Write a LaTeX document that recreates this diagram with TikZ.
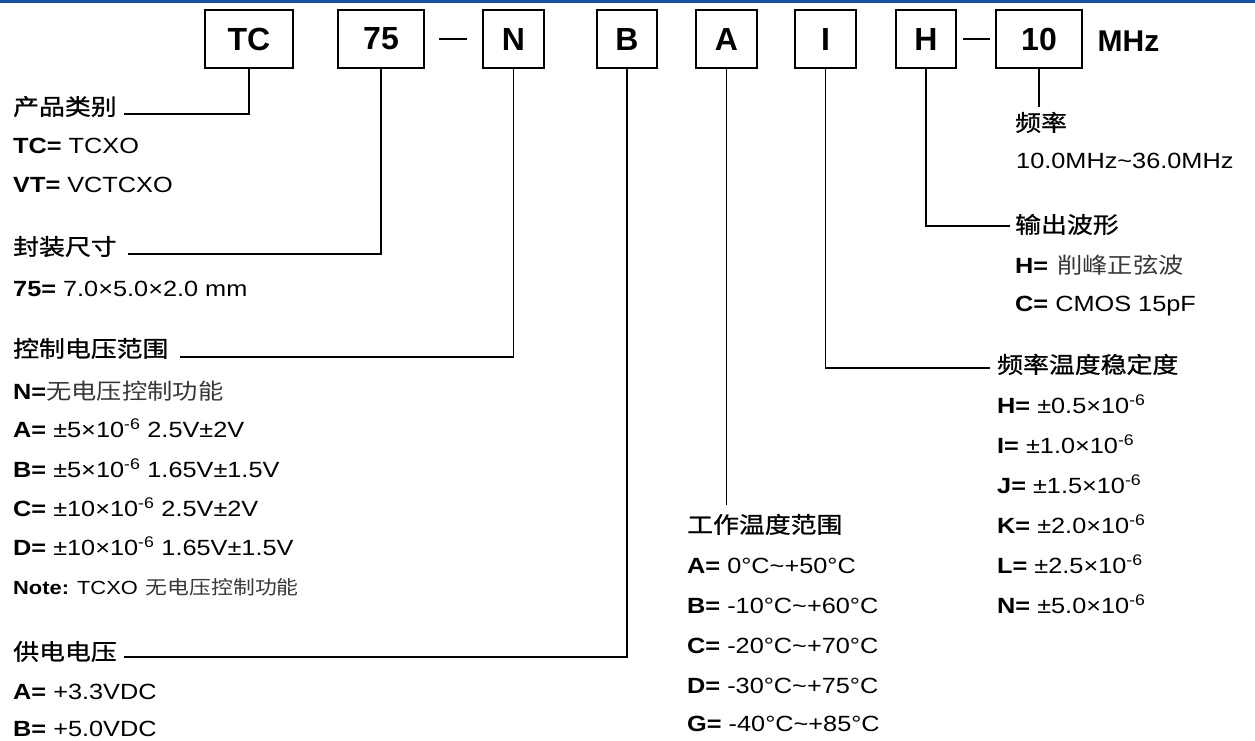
\documentclass[tikz,border=0pt]{standalone}
\usepackage{fontspec}
\setmainfont[FakeStretch=1.15]{Liberation Sans}
\newfontfamily\boxfont{Liberation Sans}
\newfontfamily\cjk[FakeStretch=1.15]{Noto Sans CJK SC}
\newfontfamily\cjkhead[FakeStretch=1.15,FakeBold=1.0]{Noto Sans CJK SC}
\definecolor{topblue}{RGB}{28,80,160}
\definecolor{softgray}{RGB}{55,55,55}
\tikzset{
  codebox/.style={draw, line width=2pt, minimum width=#1, minimum height=58pt, inner sep=0pt,
    font=\boxfont\fontsize{32}{32}\selectfont\bfseries},
  unitlbl/.style={inner sep=0pt, font=\boxfont\fontsize{30}{30}\selectfont\bfseries},
  txt/.style={anchor=base west, inner sep=0pt, font=\fontsize{22}{26}\selectfont},
  notetxt/.style={anchor=base west, inner sep=0pt, font=\fontsize{19}{22}\selectfont},
  head/.style={anchor=base west, inner sep=0pt, font=\cjkhead\fontsize{22.5}{26}\selectfont},
  conn/.style={line width=1.8pt},
  dashline/.style={line width=1.4pt}
}
\newcommand{\zh}[1]{{\cjk\color{softgray}#1}}
\newcommand{\esix}{10\textsuperscript{-6}}
\begin{document}
\begin{tikzpicture}[x=1pt,y=-1pt]
\useasboundingbox (0,0) rectangle (1255,740);
\fill[topblue] (0,0) rectangle (1255,3);

% code boxes
\node[codebox=88pt] (bTC) at (249,39) {TC};
\node[codebox=86pt] (b75) at (381,39) {75};
\node[codebox=61pt] (bN)  at (513.5,39) {N};
\node[codebox=60pt] (bB)  at (627,39) {B};
\node[codebox=61pt] (bA)  at (726.5,39) {A};
\node[codebox=61pt] (bI)  at (825.5,39) {I};
\node[codebox=60pt] (bH)  at (926,39) {H};
\node[codebox=86pt] (b10) at (1039,39) {10};
\node[unitlbl] (mhz) at (1128.5,41) {MHz};

\draw[dashline, shorten <=14pt, shorten >=15pt] (b75.east) -- (bN.west);
\draw[dashline, shorten <=6pt, shorten >=5pt] (bH.east) -- (b10.west);

% left column
\node[head] (hTC) at (13,115) {产品类别};
\node[txt] (tTC1) at (13,153) {\textbf{TC=} TCXO};
\node[txt] (tTC2) at (13,192) {\textbf{VT=} VCTCXO};

\node[head] (h75) at (13,255) {封装尺寸};
\node[txt] (t751) at (13,296) {\textbf{75=} 7.0×5.0×2.0 mm};

\node[head] (hN) at (13,357) {控制电压范围};
\node[txt] (tN1) at (13,399) {\textbf{N=}\zh{无电压控制功能}};
\node[txt] (tN2) at (13,437) {\textbf{A=} ±5×\esix{} 2.5V±2V};
\node[txt] (tN3) at (13,477) {\textbf{B=} ±5×\esix{} 1.65V±1.5V};
\node[txt] (tN4) at (13,516) {\textbf{C=} ±10×\esix{} 2.5V±2V};
\node[txt] (tN5) at (13,555) {\textbf{D=} ±10×\esix{} 1.65V±1.5V};
\node[notetxt] (tN6) at (13,594) {\textbf{Note:} TCXO\hspace{8pt}\zh{无电压控制功能}};

\node[head] (hB) at (13,660) {供电电压};
\node[txt] (tB1) at (13,699) {\textbf{A=} +3.3VDC};
\node[txt] (tB2) at (13,736) {\textbf{B=} +5.0VDC};

% middle column
\node[head] (hA) at (687,533) {工作温度范围};
\node[txt] (tA1) at (687,573) {\textbf{A=} 0°C\textasciitilde+50°C};
\node[txt] (tA2) at (687,613) {\textbf{B=} -10°C\textasciitilde+60°C};
\node[txt] (tA3) at (687,653) {\textbf{C=} -20°C\textasciitilde+70°C};
\node[txt] (tA4) at (687,693) {\textbf{D=} -30°C\textasciitilde+75°C};
\node[txt] (tA5) at (687,731) {\textbf{G=} -40°C\textasciitilde+85°C};

% right column
\node[head] (h10) at (1015,131) {频率};
\node[txt] (t101) at (1016,168) {10.0MHz\textasciitilde36.0MHz};

\node[head] (hH) at (1015,233) {输出波形};
\node[txt] (tH1) at (1015,273) {\textbf{H=}\hspace{9pt}\zh{削峰正弦波}};
\node[txt] (tH2) at (1015,311) {\textbf{C=} CMOS 15pF};

\node[head] (hI) at (997,373) {频率温度稳定度};
\node[txt] (tI1) at (997,413) {\textbf{H=} ±0.5×\esix};
\node[txt] (tI2) at (997,453) {\textbf{I=} ±1.0×\esix};
\node[txt] (tI3) at (997,493) {\textbf{J=} ±1.5×\esix};
\node[txt] (tI4) at (997,533) {\textbf{K=} ±2.0×\esix};
\node[txt] (tI5) at (997,573) {\textbf{L=} ±2.5×\esix};
\node[txt] (tI6) at (997,613) {\textbf{N=} ±5.0×\esix};

% connector ends
\coordinate (cTC) at (124,114);
\coordinate (c75) at (128,254);
\coordinate (cN)  at (180,357);
\coordinate (cB)  at (124,657);
\coordinate (cA)  at (726.5,505);
\coordinate (cI)  at (990,368);
\coordinate (cH)  at (1010,226);
\coordinate (c10) at (1039,107);

\draw[conn] (bTC.south) |- (cTC);
\draw[conn] (b75.south) |- (c75);
\draw[conn] (bN.south) |- (cN);
\draw[conn] (bB.south) |- (cB);
\draw[conn] (bA.south) -- (cA);
\draw[conn] (bI.south) |- (cI);
\draw[conn] (bH.south) |- (cH);
\draw[conn] (b10.south) -- (c10);
\end{tikzpicture}
\end{document}
